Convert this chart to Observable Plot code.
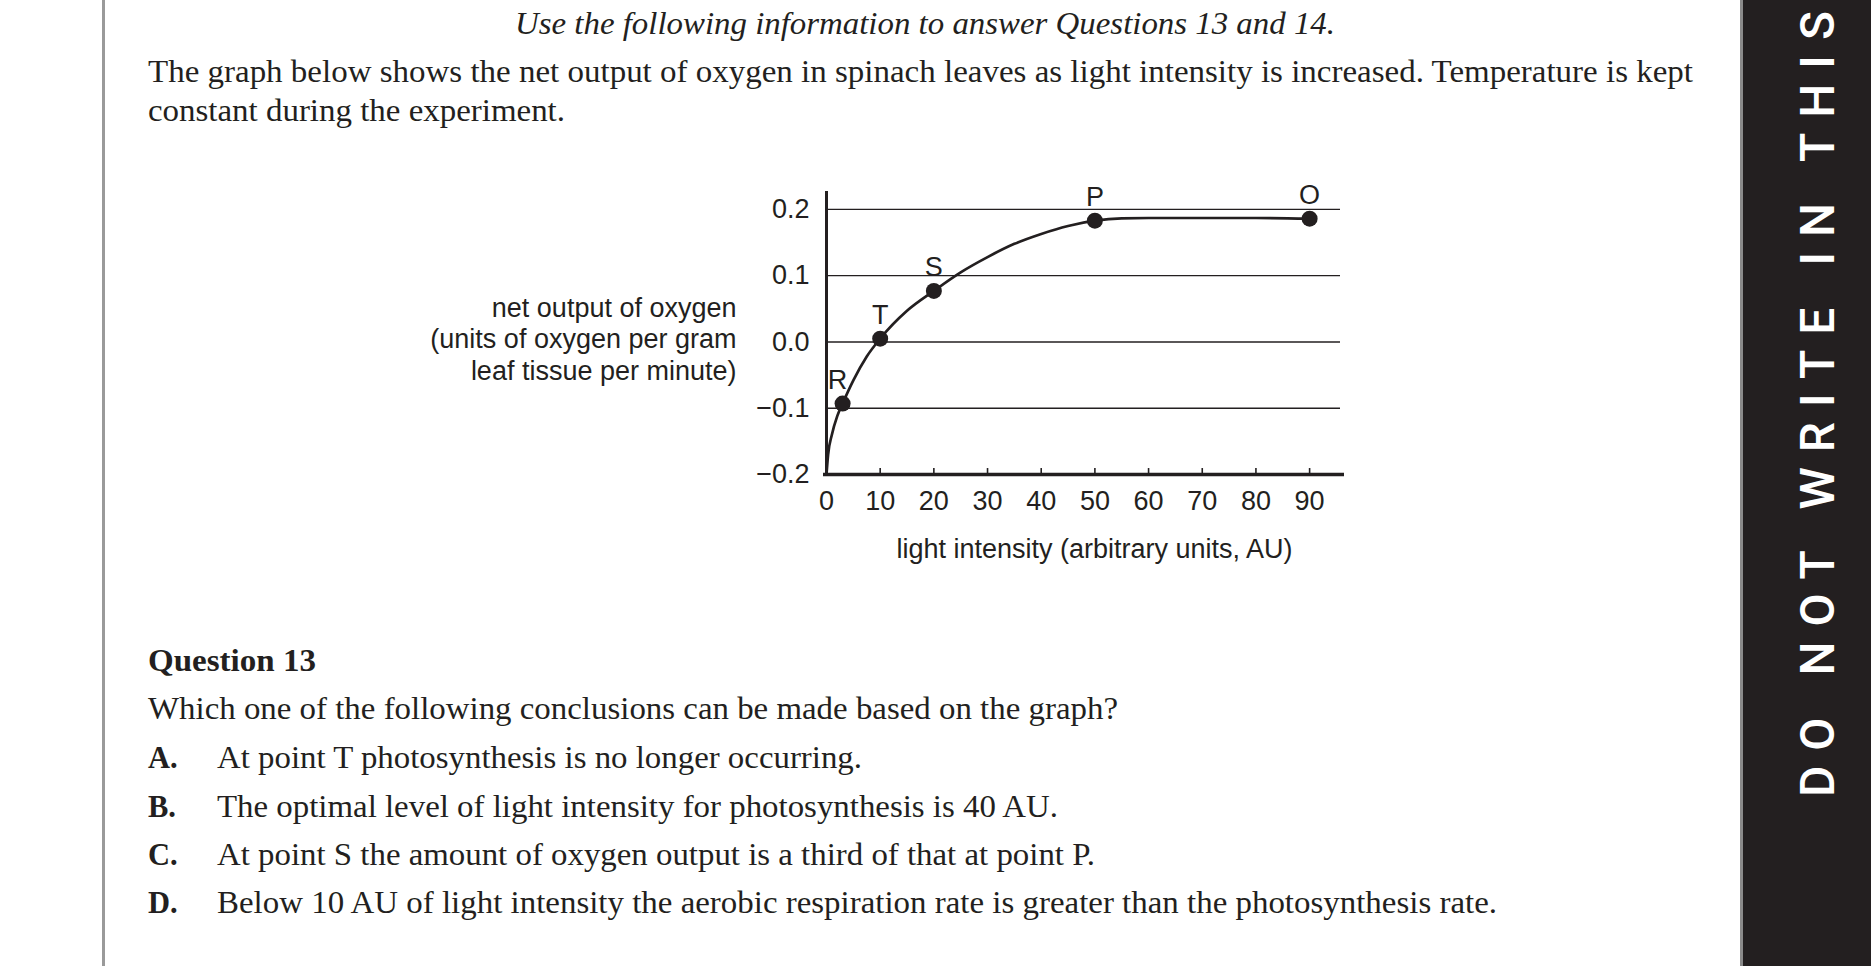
<!DOCTYPE html>
<html>
<head>
<meta charset="utf-8">
<script src="https://cdn.jsdelivr.net/npm/d3@7"></script>
<script src="https://cdn.jsdelivr.net/npm/@observablehq/plot@0.6"></script>
<style>
  html, body { margin: 0; padding: 0; background: #fff; width: 1871px; height: 966px; overflow: hidden; }
  #page { position: absolute; left: 0; top: 0; }
  #chart { position: absolute; left: 0; top: 150px; }
</style>
</head>
<body>
<svg id="page" width="1871" height="966"></svg>
<div id="chart"></div>
<script>
// ---- data ----
const curveX = [0, 0.3, 1, 2, 3, 5, 7.5, 10, 15, 20, 25, 30, 35, 40, 45, 50, 55, 60, 70, 80, 90];
const curveY = [-0.2, -0.17, -0.14, -0.112, -0.093, -0.058, -0.022, 0.005, 0.047, 0.077, 0.105, 0.128, 0.148, 0.163, 0.175, 0.183, 0.1865, 0.187, 0.187, 0.187, 0.186];
const pointLabels = ["R", "T", "S", "P", "O"];
const pointX = [3, 10, 20, 50, 90];
const pointY = [-0.093, 0.005, 0.077, 0.183, 0.186];
const xTickLabels = [0, 10, 20, 30, 40, 50, 60, 70, 80, 90];
const xTickMarks = [10, 20, 30, 40, 50, 60, 70, 80, 90];
const yTickLabels = [-0.2, -0.1, 0.0, 0.1, 0.2];
const yLabelLines = ["net output of oxygen", "(units of oxygen per gram", "leaf tissue per minute)"];
const xLabel = "light intensity (arbitrary units, AU)";

const titleText = "Use the following information to answer Questions 13 and 14.";
const introLines = [
  "The graph below shows the net output of oxygen in spinach leaves as light intensity is increased. Temperature is kept",
  "constant during the experiment."
];
const questionHead = "Question 13";
const questionText = "Which one of the following conclusions can be made based on the graph?";
const optionLetters = ["A.", "B.", "C.", "D."];
const optionTexts = [
  "At point T photosynthesis is no longer occurring.",
  "The optimal level of light intensity for photosynthesis is 40 AU.",
  "At point S the amount of oxygen output is a third of that at point P.",
  "Below 10 AU of light intensity the aerobic respiration rate is greater than the photosynthesis rate."
];
const sideText = "DO NOT WRITE IN THIS";

// ---- page (text around the chart) ----
const ink = "#231f20";
const serif = "'Liberation Serif', 'Times New Roman', serif";
const sans = "'Liberation Sans', Arial, Helvetica, sans-serif";
const page = d3.select("#page");

page.append("rect").attr("x", 102).attr("y", 0).attr("width", 3).attr("height", 966).attr("fill", "#9a9a9a");
page.append("rect").attr("x", 1740).attr("y", 0).attr("width", 3).attr("height", 966).attr("fill", "#8a8a8a");
page.append("rect").attr("x", 1743).attr("y", 0).attr("width", 128).attr("height", 966).attr("fill", ink);
page.append("text")
  .attr("transform", "translate(1834,797) rotate(-90)")
  .attr("font-family", "Roboto, 'Liberation Sans', sans-serif")
  .attr("font-weight", 500)
  .attr("font-size", 48)
  .attr("fill", "#fff")
  .attr("textLength", 786)
  .attr("lengthAdjust", "spacing")
  .text(sideText);

function line(txt, x, y, len, opts = {}) {
  const t = page.append("text")
    .attr("x", x).attr("y", y)
    .attr("font-family", serif)
    .attr("font-size", opts.size || 30.5)
    .attr("fill", ink)
    .text(txt);
  if (len != null) t.attr("textLength", len).attr("lengthAdjust", "spacingAndGlyphs");
  if (opts.italic) t.attr("font-style", "italic");
  if (opts.bold) t.attr("font-weight", "bold");
  if (opts.anchor) t.attr("text-anchor", opts.anchor);
  return t;
}

line(titleText, 925, 34, 820, {italic: true, anchor: "middle"});
line(introLines[0], 148, 82, 1545);
line(introLines[1], 148, 121, 417);
line(questionHead, 148, 671, 168, {bold: true});
line(questionText, 148, 719, 970);
const optBase = [768, 817, 865, 913];
const optEnd = [862, 1058, 1095, 1497];
optionLetters.forEach((l, i) => {
  line(l, 148, optBase[i], null, {bold: true});
  line(optionTexts[i], 217, optBase[i], optEnd[i] - 217);
});

// ---- chart ----
const curve = curveX.map((x, i) => ({x, y: curveY[i]}));
const points = pointLabels.map((label, i) => ({label, x: pointX[i], y: pointY[i]}));
const yMin = yTickLabels[0];
const tickLen = 0.009;

const chart = Plot.plot({
  width: 1400,
  height: 440,
  marginLeft: 826,
  marginRight: 56,
  marginTop: 41,
  marginBottom: 116,
  x: {domain: [0, 96.5]},
  y: {domain: [-0.2, 0.227]},
  style: {background: "transparent", fontFamily: sans, fontSize: "27px", color: ink, overflow: "visible"},
  marks: [
    Plot.ruleY(yTickLabels.slice(1), {stroke: ink, strokeWidth: 1.4, insetRight: 4}),
    Plot.ruleX(xTickMarks, {x: d => d, y1: yMin, y2: yMin + tickLen, stroke: ink, strokeWidth: 1.6}),
    Plot.axisY(yTickLabels, {tickSize: 0, tickPadding: 17, tickFormat: d3.format(".1f"), label: null, fill: ink}),
    Plot.axisX(xTickLabels, {tickSize: 0, tickPadding: 16, label: null, fill: ink}),
    Plot.ruleX([0], {stroke: ink, strokeWidth: 3}),
    Plot.ruleY([yMin], {stroke: ink, strokeWidth: 3.5, insetLeft: -3}),
    Plot.line(curve, {x: "x", y: "y", curve: "monotone-x", stroke: ink, strokeWidth: 2.7}),
    Plot.dot(points, {x: "x", y: "y", r: 8, fill: ink, stroke: "none"}),
    Plot.text(points, {filter: d => d.label !== "R", x: "x", y: "y", text: "label", lineAnchor: "bottom", dy: -15, fill: ink}),
    Plot.text(points, {filter: d => d.label === "R", x: "x", y: "y", text: "label", lineAnchor: "bottom", dy: -15, dx: -5, fill: ink}),
    Plot.text([yLabelLines.join("\n")], {text: d => d, frameAnchor: "left", dx: -90, dy: 5, textAnchor: "end", lineHeight: 1.17, fill: ink}),
    Plot.text([xLabel], {text: d => d, frameAnchor: "bottom", dx: 9, dy: 83, lineAnchor: "bottom", fill: ink})
  ]
});
document.getElementById("chart").appendChild(chart);
</script>
</body>
</html>
